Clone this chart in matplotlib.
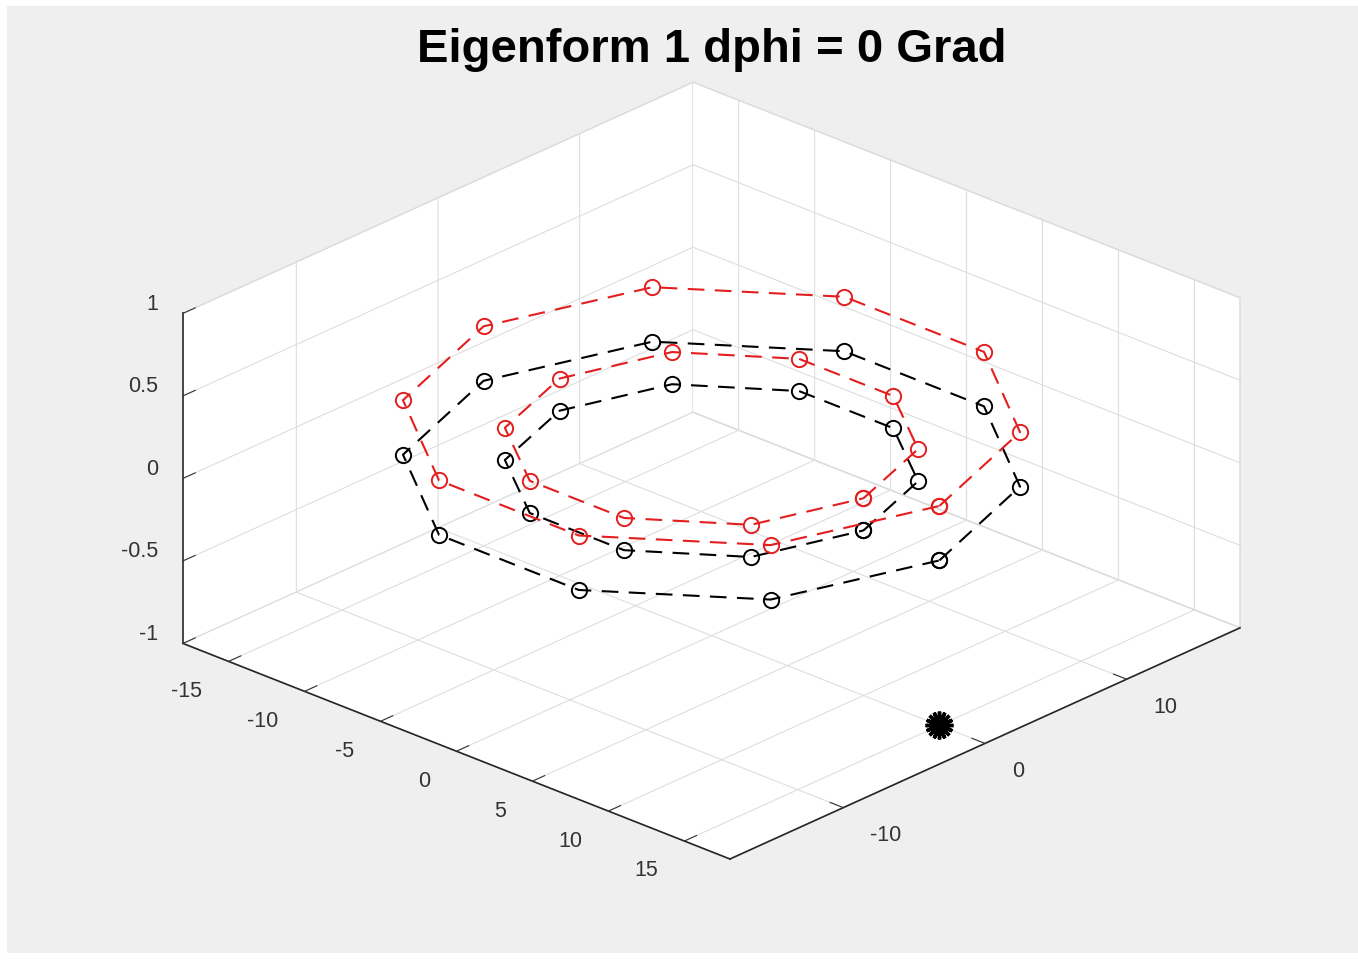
import numpy as np
import matplotlib
matplotlib.use("Agg")
import matplotlib.pyplot as plt
from matplotlib.patches import Rectangle
from mpl_toolkits.mplot3d import proj3d

plt.rcParams['font.family'] = ['Liberation Sans', 'DejaVu Sans']
plt.rcParams['axes.unicode_minus'] = False
plt.rcParams['grid.color'] = (0.87, 0.87, 0.87)
plt.rcParams['grid.linewidth'] = 0.8

# ring nodes
outer_x = [15.0, 12.1, 4.6, -4.6, -12.1, -15.0, -12.1, -4.6, 4.6, 12.1]
outer_y = [0.0, 8.8, 14.3, 14.3, 8.8, 0.0, -8.8, -14.3, -14.3, -8.8]
inner_x = [10.0, 8.1, 3.1, -3.1, -8.1, -10.0, -8.1, -3.1, 3.1, 8.1]
inner_y = [0.0, 5.9, 9.5, 9.5, 5.9, 0.0, -5.9, -9.5, -9.5, -5.9]

# z of undeformed (black) and mode shape (red)
outer_z_rest = [0, 0, 0, 0, 0, 0, 0, 0, 0, 0]
inner_z_rest = [0, 0, 0, 0, 0, 0, 0, 0, 0, 0]
outer_z_mode = [0.33, 0.33, 0.33, 0.33, 0.33, 0.33, 0.33, 0.33, 0.33, 0.33]
inner_z_mode = [0.195, 0.195, 0.195, 0.195, 0.195, 0.195, 0.195, 0.195, 0.195, 0.195]

star_x = [15]
star_y = [0]
star_z = [-1]

x_ticks = [-15, -10, -5, 0, 5, 10, 15]
y_ticks = [-10, 0, 10]
z_ticks = [-1, -0.5, 0, 0.5, 1]
z_labels = ['-1', '-0.5', '0', '0.5', '1']

title = 'Eigenform 1 dphi = 0 Grad'
bg = '#f0efef'


def closed(v):
    return list(v) + [v[0]]


fig = plt.figure(figsize=(13.58, 9.62), dpi=100)
fig.patch.set_facecolor('white')
# grey figure area inside a thin white screenshot border
fig.patches.append(Rectangle((7, 8), 1351, 947, transform=None, facecolor=bg,
                             edgecolor='none', zorder=-10))
ax = fig.add_axes([0, 0, 1, 1], projection='3d', proj_type='ortho')
ax.patch.set_alpha(0)

line_kw = dict(linestyle=(0, (8, 5)), linewidth=1.5, marker='o', markersize=11,
               markerfacecolor='none', markeredgewidth=1.4)
ax.plot(closed(outer_x), closed(outer_y), closed(outer_z_rest), color='black', **line_kw)
ax.plot(closed(inner_x), closed(inner_y), closed(inner_z_rest), color='black', **line_kw)
ax.plot(closed(outer_x), closed(outer_y), closed(outer_z_mode), color='#e41e1e', **line_kw)
ax.plot(closed(inner_x), closed(inner_y), closed(inner_z_mode), color='#e41e1e', **line_kw)
ax.plot(star_x, star_y, star_z, linestyle='none', marker=(16, 2, 0), markersize=20,
        markeredgewidth=2.5, color='black')

ax.set_xlim(-18, 18)
ax.set_ylim(-18, 18)
ax.set_zlim(-1, 1)
ax.set_xticks(x_ticks)
ax.set_yticks(y_ticks)
ax.set_zticks(z_ticks)
ax.set_zticklabels(z_labels)
ax.tick_params(labelsize=15.5, colors=(0.2, 0.2, 0.2))
ax.xaxis.set_tick_params(pad=13)
ax.yaxis.set_tick_params(pad=12)
ax.zaxis.set_tick_params(pad=1.5)
ax.zaxis.set_ticks_position('lower')
plt.setp(ax.get_xticklabels(), ha='right', va='center')
plt.setp(ax.get_yticklabels(), ha='left', va='center')
plt.setp(ax.get_zticklabels(), ha='right', va='bottom')

for axis in (ax.xaxis, ax.yaxis, ax.zaxis):
    axis.set_pane_color((1, 1, 1, 1))
    axis.pane.set_edgecolor((0.85, 0.85, 0.85))
    axis.line.set_color((0.15, 0.15, 0.15))
    axis.line.set_linewidth(1.2)
    axis._axinfo['tick']['inward_factor'] = 0.0
    axis._axinfo['tick']['outward_factor'] = 0.3

ax.set_box_aspect((1, 1, 0.487))
ax.view_init(elev=25, azim=-47)

# fit the projected box onto the reference pixel box
fig.canvas.draw()
W, H = fig.bbox.width, fig.bbox.height
cx, cy, cz = [], [], []
for a in ax.get_xlim():
    for b in ax.get_ylim():
        for c in ax.get_zlim():
            cx.append(a)
            cy.append(b)
            cz.append(c)
px, py, _ = proj3d.proj_transform(np.array(cx), np.array(cy), np.array(cz), ax.get_proj())
disp = ax.transData.transform(np.column_stack([px, py]))
pos = ax.get_position()
side = pos.width * W
c0x = (pos.x0 + pos.width / 2) * W
c0y = (pos.y0 + pos.height / 2) * H
left, right, bottom = 183, 1240, H - 860
s = (right - left) / (disp[:, 0].max() - disp[:, 0].min())
side_n = side * s
cxn = left - (disp[:, 0].min() - c0x) * s
cyn = bottom - (disp[:, 1].min() - c0y) * s
ax.set_position([(cxn - side_n / 2) / W, (cyn - side_n / 2) / H, side_n / W, side_n / H])

fig.text(0.524, 1 - 50 / 962, title, ha='center', va='center', fontsize=34,
         fontweight='bold', color='black')

fig.savefig('out.png', dpi=100, facecolor=fig.get_facecolor())
